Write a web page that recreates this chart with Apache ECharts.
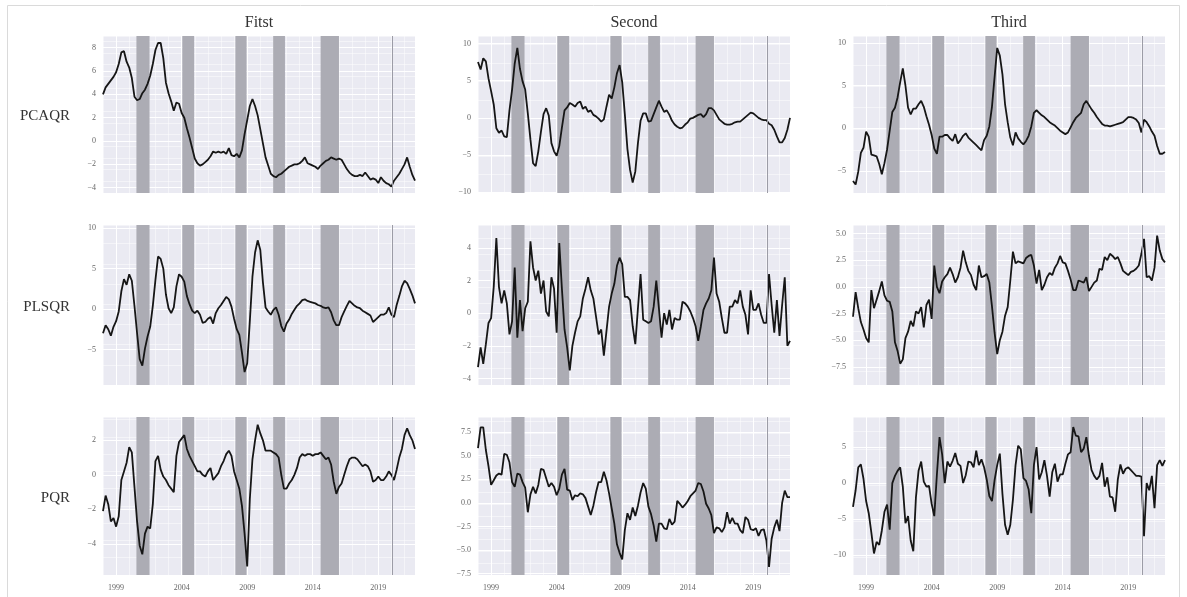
<!DOCTYPE html>
<html><head><meta charset="utf-8">
<script src="https://cdn.jsdelivr.net/npm/echarts@6/dist/echarts.min.js"></script>
<style>html,body{margin:0;padding:0;background:#fff}#c{width:1187px;height:597px}</style>
</head><body><div id="c"></div>
<script>
// ---------- data ----------
const START_YEAR = 1998.0, STEP = 0.2, N = 120;
const xTickYears = [1999, 2004, 2009, 2014, 2019];
const shadedPeriods = [[2000.55, 2001.55], [2004.05, 2004.95], [2008.1, 2008.95], [2010.98, 2011.88], [2014.6, 2016.0]];
const markerYear = 2020.06;
const columnTitles = ['Fitst', 'Second', 'Third'];
const rowNames = ['PCAQR', 'PLSQR', 'PQR'];

const pcaqrFirst = [4.0,4.6,4.9,5.2,5.5,5.9,6.6,7.6,7.7,6.8,
 6.3,5.4,3.8,3.5,3.6,4.1,4.4,4.9,5.6,6.6,
 7.8,8.4,8.4,7.1,5.0,4.1,3.4,2.6,3.3,3.2,
 2.4,2.0,1.1,0.3,-0.6,-1.5,-1.9,-2.1,-2.0,-1.8,
 -1.6,-1.3,-0.9,-1.0,-0.9,-1.0,-0.9,-1.1,-0.6,-1.2,
 -1.3,-1.1,-1.4,-0.8,0.6,1.8,3.0,3.6,3.0,2.2,
 1.0,-0.2,-1.4,-2.1,-2.8,-3.0,-3.1,-2.9,-2.8,-2.6,
 -2.4,-2.2,-2.1,-2.0,-2.0,-1.9,-1.7,-1.4,-1.9,-2.0,
 -2.1,-2.2,-2.4,-2.1,-1.9,-1.7,-1.6,-1.4,-1.5,-1.6,
 -1.5,-1.6,-2.0,-2.4,-2.7,-2.9,-3.0,-3.0,-2.9,-3.0,
 -2.7,-3.0,-3.3,-3.2,-3.3,-3.6,-3.1,-3.4,-3.6,-3.7,
 -3.9,-3.4,-3.1,-2.8,-2.4,-2.0,-1.4,-2.2,-2.9,-3.4];
const pcaqrSecond = [7.5,6.5,8.0,7.6,5.3,3.6,1.8,-1.4,-2.0,-1.7,
 -2.5,-2.6,1.0,3.8,7.3,9.4,6.6,4.9,3.8,0.6,
 -2.9,-6.1,-6.5,-4.5,-1.9,0.5,1.3,0.3,-3.4,-4.5,
 -5.1,-3.8,-1.3,1.0,1.4,2.0,1.8,1.5,2.0,2.2,
 1.2,1.5,0.8,1.0,0.4,0.2,-0.1,-0.5,-0.2,1.5,
 3.1,2.6,4.1,6.0,7.1,4.8,0.5,-4.2,-7.0,-8.7,
 -7.2,-3.4,-0.4,0.6,0.6,-0.5,-0.4,0.5,1.4,2.3,
 1.5,0.8,1.0,0.4,-0.4,-0.9,-1.2,-1.4,-1.3,-0.9,
 -0.6,-0.1,0,0.2,0.4,0.5,0.1,0.5,1.3,1.3,
 1.0,0.4,-0.2,-0.5,-0.8,-0.9,-0.9,-0.8,-0.6,-0.5,
 -0.5,-0.2,0.1,0.4,0.7,0.6,0.3,0,-0.2,-0.3,
 -0.3,-0.8,-1.0,-1.6,-2.5,-3.3,-3.3,-2.7,-1.6,0];
const pcaqrThird = [-6.2,-6.6,-5.1,-2.9,-2.3,-0.4,-1.0,-3.1,-3.2,-3.3,
 -4.2,-5.4,-4.1,-2.5,-0.3,1.9,2.4,3.6,5.4,7.0,
 5.0,2.4,1.6,2.3,2.3,2.8,3.2,2.5,1.4,0.4,
 -0.8,-2.4,-3.0,-1.0,-1.0,-0.8,-0.8,-1.2,-1.5,-0.7,
 -1.8,-1.4,-0.9,-0.6,-1.1,-1.4,-1.7,-2.0,-2.3,-2.6,
 -1.4,-0.9,0.2,2.5,6.0,9.4,8.5,6.3,2.8,0.7,
 -1.1,-2.0,-0.5,-1.2,-1.6,-1.9,-1.5,-0.9,0.2,1.8,
 2.1,1.8,1.5,1.3,1.0,0.7,0.5,0.3,0,-0.3,
 -0.5,-0.7,-0.5,0.1,0.7,1.2,1.5,1.8,2.8,3.2,
 2.7,2.2,1.8,1.3,0.9,0.5,0.3,0.3,0.2,0.3,
 0.4,0.5,0.6,0.7,1.0,1.3,1.3,1.2,1.0,0.6,
 -0.5,1.0,0.7,0.2,-0.4,-0.9,-2.1,-3.0,-3.0,-2.8];
const plsqrFirst = [-3.0,-2.0,-2.5,-3.3,-2.2,-1.5,-0.3,2.2,3.7,3.0,
 4.3,3.5,0.4,-3.0,-6.2,-7.0,-4.9,-3.4,-2.2,0.4,
 3.6,6.5,6.2,5.0,1.8,0.1,-0.5,0.2,2.8,4.3,
 4.0,3.4,1.6,0.6,-0.2,-0.5,-0.2,-0.7,-1.7,-1.6,
 -1.2,-1.0,-1.8,-0.5,0.1,0.5,1.0,1.5,1.2,0.3,
 -1.2,-2.5,-3.2,-5.4,-7.8,-6.7,-1.5,4.0,7.0,8.5,
 7.3,3.3,0.2,-0.3,-0.7,-0.1,0.2,-0.7,-2.1,-2.8,
 -1.8,-1.3,-0.6,-0.1,0.4,0.7,1.1,1.2,1.0,0.9,
 0.8,0.7,0.5,0.4,0.2,0.1,0.2,-0.4,-1.4,-2.0,
 -2.0,-1.0,-0.3,0.4,1.0,0.7,0.4,0.2,0.1,-0.2,
 -0.4,-0.6,-0.8,-1.6,-1.3,-1.0,-0.7,-0.7,-0.5,0.2,
 -0.7,-1.0,0.5,1.6,2.8,3.5,3.2,2.5,1.7,0.7];
const plsqrSecond = [-3.3,-2.1,-3.1,-1.9,-0.6,-0.3,1.6,4.6,1.6,0.6,
 1.4,0.6,-1.3,-0.5,2.8,-1.5,0.8,-1.1,0.3,0.7,
 4.4,2.8,2.0,2.6,1.2,2.0,0.1,-0.2,2.2,1.5,
 -1.2,4.3,1.5,-1.0,-2.1,-3.5,-2.0,-1.2,-0.5,-0.2,
 0.9,1.5,2.2,1.4,0.9,-0.2,-1.3,-1.0,-2.6,-1.1,
 0.4,1.2,1.8,2.9,3.4,3.0,1.0,1.0,0.8,-0.8,
 -1.9,0.3,2.4,-0.4,-0.5,-0.6,-0.5,0.4,2.0,0.3,
 -1.5,0,-0.7,0.2,-1.0,-0.3,-0.4,-0.4,0.7,0.6,
 0.4,0.1,-0.3,-0.8,-1.7,-0.8,0.2,0.6,0.9,1.4,
 3.4,1.2,0.7,-0.3,-1.2,-1.2,0.4,0.4,0.8,0.6,
 1.4,0.4,-0.1,-1.3,1.4,0.2,0.2,0.6,-0.1,-0.6,
 -0.6,2.4,0.5,-1.2,0.8,-1.4,0.5,2.2,-2.0,-1.7];
const plsqrThird = [-2.8,-0.5,-2.0,-3.3,-4.0,-4.8,-5.2,-0.3,-2.0,-1.2,
 -0.4,0.5,-0.8,-1.3,-1.4,-2.3,-5.2,-6.0,-7.2,-6.8,
 -4.8,-4.2,-3.2,-3.7,-2.3,-2.5,-1.9,-3.8,-1.7,-1.2,
 -3.0,2.0,0.0,-0.6,0.5,0.9,1.2,1.8,1.2,0.4,
 0.9,1.8,3.4,2.3,1.5,1.1,0.2,-0.3,2.0,0.9,
 1.0,1.2,0.4,-1.8,-4.3,-6.3,-5.0,-4.2,-2.7,-1.9,
 0.6,3.3,2.2,2.4,2.3,2.2,2.7,2.9,3.0,2.0,
 0.3,1.6,-0.3,0.2,0.9,1.3,1.1,1.8,2.2,2.9,
 2.3,2.2,1.5,0.7,-0.3,-0.3,0.6,0.5,0.4,0.9,
 -0.4,0,0.4,0.6,1.7,1.6,2.8,2.5,3.1,2.9,
 2.6,2.8,2.2,1.5,1.3,1.1,1.4,1.5,1.7,2.0,
 3.1,4.5,0.9,1.0,0.6,1.8,4.8,3.4,2.6,2.3];
const pqrFirst = [-2.1,-1.2,-1.7,-2.7,-2.5,-3.0,-2.4,-0.3,0.2,0.7,
 1.6,1.3,-0.7,-2.7,-4.1,-4.6,-3.4,-3.0,-3.1,-1.7,
 0.8,1.1,0.3,-0.1,-0.3,-0.6,-0.8,-1.0,1.1,1.9,
 2.1,2.3,1.5,1.1,0.8,0.5,0.2,0.2,0.0,-0.1,
 0.2,0.4,-0.3,-0.1,0.1,0.5,0.8,1.2,1.4,1.1,
 0.2,-0.3,-0.8,-1.8,-3.4,-5.3,-1.4,0.9,2.0,2.9,
 2.4,2.0,1.4,1.4,1.4,1.3,1.2,1.0,0.0,-0.8,
 -0.8,-0.5,-0.3,0.0,0.4,1.0,1.2,1.1,1.2,1.2,
 1.1,1.2,1.2,1.3,1.1,0.9,1.0,0.6,-0.4,-1.1,
 -0.7,-0.5,0.0,0.5,0.9,1.0,1.0,0.9,0.7,0.5,
 0.6,0.5,0.2,-0.4,-0.3,-0.1,-0.3,-0.3,-0.1,0.2,
 0.0,-0.3,0.3,1.0,1.5,2.3,2.7,2.3,2.0,1.5];
const pqrSecond = [5.8,8.0,8.0,5.6,3.9,1.9,2.4,2.9,3.1,3.0,
 5.2,5.1,4.3,2.2,1.7,3.1,3.0,2.2,1.6,-1.0,
 0.9,1.7,1.0,1.9,3.6,3.5,2.6,1.7,2.1,1.7,
 0.8,1.5,3.0,3.6,1.4,1.3,0.3,0.8,0.7,1.0,
 0.9,0.5,-0.4,-1.3,-0.3,1.1,2.2,2.2,3.3,2.4,
 1.0,-0.6,-2.2,-4.4,-5.3,-6.0,-2.9,-1.1,-1.8,-0.5,
 -1.4,-0.3,1.1,2.1,1.5,-0.4,-1.2,-2.4,-4.1,-2.2,
 -2.2,-2.7,-2.8,-1.7,-2.3,-2.0,0.2,-0.1,-0.5,-0.2,
 0.2,0.7,1.0,1.3,2.1,2.0,1.2,-0.1,-0.6,-1.3,
 -3.2,-2.6,-2.7,-3.1,-2.6,-1.0,-2.2,-1.6,-2.2,-2.2,
 -2.9,-3.2,-1.5,-1.8,-2.8,-2.9,-2.7,-3.5,-2.9,-2.8,
 -4.0,-6.8,-3.8,-2.6,-1.8,-3.0,0.0,1.3,0.6,0.6];
const pqrThird = [-3.3,-1.0,2.2,2.6,0.6,-2.5,-4.2,-6.9,-9.8,-8.2,
 -8.6,-6.6,-4.0,-3.0,-6.5,0.0,1.0,1.7,2.2,-0.5,
 -5.6,-4.6,-8.0,-9.5,-2.0,1.7,3.0,0.2,-0.5,-0.4,
 -2.9,-4.6,1.2,6.4,4.0,0.0,3.0,2.3,3.1,4.2,
 2.7,2.4,0.0,1.1,3.0,2.9,2.2,4.5,2.5,3.3,
 2.2,0.5,-1.8,-2.5,0.4,2.5,4.1,-1.5,-5.8,-7.2,
 -5.8,-2.3,2.5,5.2,4.7,0.7,0.3,-0.9,-4.2,2.5,
 5.0,0.5,1.5,3.2,1.0,-1.9,1.5,2.7,0.2,1.2,
 1.2,2.7,4.0,4.3,7.8,6.6,6.5,4.3,4.8,6.4,
 3.8,1.8,1.0,0.5,1.0,2.8,-0.5,0.8,-1.9,-2.0,
 -4.0,0.5,2.6,1.3,2.0,2.2,1.8,1.4,1.0,1.0,
 0.9,-7.4,0.0,-1.0,1.0,-3.5,2.5,3.2,2.4,3.2];

// panel order: row-major
const panelValues = [pcaqrFirst, pcaqrSecond, pcaqrThird, plsqrFirst, plsqrSecond, plsqrThird, pqrFirst, pqrSecond, pqrThird];
const yTickValues = [
  [-4, -2, 0, 2, 4, 6, 8], [-10, -5, 0, 5, 10], [-5, 0, 5, 10],
  [-5, 0, 5, 10], [-4, -2, 0, 2, 4], [-7.5, -5, -2.5, 0, 2.5, 5],
  [-4, -2, 0, 2], [-7.5, -5, -2.5, 0, 2.5, 5, 7.5], [-10, -5, 0, 5]
];
const yMinorStep = [1, 2.5, 2.5, 2.5, 1, 1.25, 1, 1.25, 2.5];
const yExtents = [
  [-4.45, 9.0], [-10.1, 11.0], [-7.6, 10.8],
  [-9.4, 10.4], [-4.4, 5.4], [-9.2, 5.8],
  [-5.8, 3.35], [-7.65, 9.1], [-12.8, 9.2]
];
const yDecimals = [0, 0, 0, 0, 0, 1, 0, 1, 0];

// ---------- layout ----------
const colLeft = [103, 478, 853], plotW = 312;
const rowTop = [36, 225, 417], rowH = [157, 160, 158];
const X_MIN = START_YEAR, X_MAX = START_YEAR + STEP * (N - 1);

const dates = [];
for (let i = 0; i < N; i++) dates.push(+(START_YEAR + STEP * i).toFixed(2));

const grids = [], xAxes = [], yAxes = [], xMinor = [], yMinor = [], series = [], graphics = [];
const labelFont = 'Liberation Serif';
const fmtY = (dec) => (v) => (v < 0 ? '\u2212' : '') + (dec ? Math.abs(v).toFixed(dec) : String(Math.abs(v)));
const minorLine = {show: true, lineStyle: {color: 'rgba(255,255,255,0.6)', width: 0.8}};

for (let r = 0; r < 3; r++) {
  for (let c = 0; c < 3; c++) {
    const k = r * 3 + c;
    grids.push({left: colLeft[c], top: rowTop[r], width: plotW, height: rowH[r],
      show: true, backgroundColor: '#eaeaf2', borderWidth: 0, containLabel: false});
    xAxes.push({type: 'value', gridIndex: k, min: X_MIN, max: X_MAX,
      axisLine: {show: false},
      axisTick: {show: false, customValues: xTickYears},
      axisLabel: {show: r === 2, customValues: xTickYears, margin: 9, fontSize: 8,
        fontFamily: labelFont, color: '#666', formatter: (v) => String(v)},
      splitLine: {show: true, lineStyle: {color: '#ffffff', width: 1}}
    });
    xMinor.push({type: 'value', gridIndex: k, min: X_MIN, max: X_MAX, interval: 1,
      axisLine: {show: false}, axisTick: {show: false}, axisLabel: {show: false},
      splitLine: minorLine});
    yAxes.push({type: 'value', gridIndex: k, min: yExtents[k][0], max: yExtents[k][1],
      axisLine: {show: false},
      axisTick: {show: false, customValues: yTickValues[k]},
      axisLabel: {show: true, customValues: yTickValues[k], margin: 7, fontSize: 8,
        fontFamily: labelFont, color: '#666', formatter: fmtY(yDecimals[k])},
      splitLine: {show: true, lineStyle: {color: '#ffffff', width: 1}}
    });
    yMinor.push({type: 'value', gridIndex: k, min: yExtents[k][0], max: yExtents[k][1],
      interval: yMinorStep[k],
      axisLine: {show: false}, axisTick: {show: false}, axisLabel: {show: false},
      splitLine: minorLine});
    series.push({
      type: 'line', xAxisIndex: k, yAxisIndex: k,
      data: dates.map((d, i) => [d, panelValues[k][i]]),
      showSymbol: false, symbol: 'none', smooth: false,
      lineStyle: {color: '#161616', width: 1.8},
      z: 3,
      markArea: {silent: true, itemStyle: {color: '#acacb4'},
        data: shadedPeriods.map(p => [{xAxis: p[0]}, {xAxis: p[1]}])},
      markLine: {silent: true, symbol: 'none', label: {show: false},
        lineStyle: {color: '#9c9ca6', width: 1, type: 'solid'},
        data: [{xAxis: markerYear}]}
    });
  }
}

graphics.push({type: 'rect', shape: {x: 7.5, y: 5.5, width: 1172, height: 620},
  style: {fill: 'none', stroke: '#dadada', lineWidth: 1}, silent: true});
for (let c = 0; c < 3; c++) {
  graphics.push({type: 'text', x: colLeft[c] + plotW / 2, y: 23,
    style: {text: columnTitles[c], font: '16px "Liberation Serif"', fill: '#333',
      align: 'center', verticalAlign: 'middle'}});
}
for (let r = 0; r < 3; r++) {
  graphics.push({type: 'text', x: 70, y: rowTop[r] + rowH[r] / 2 + 2,
    style: {text: rowNames[r], font: '15px "Liberation Serif"', fill: '#333',
      align: 'right', verticalAlign: 'middle'}});
}

const chart = echarts.init(document.getElementById('c'), null, {renderer: 'canvas'});
chart.setOption({
  animation: false,
  backgroundColor: '#ffffff',
  grid: grids,
  xAxis: xAxes.concat(xMinor),
  yAxis: yAxes.concat(yMinor),
  series: series,
  graphic: graphics
});
</script></body></html>
